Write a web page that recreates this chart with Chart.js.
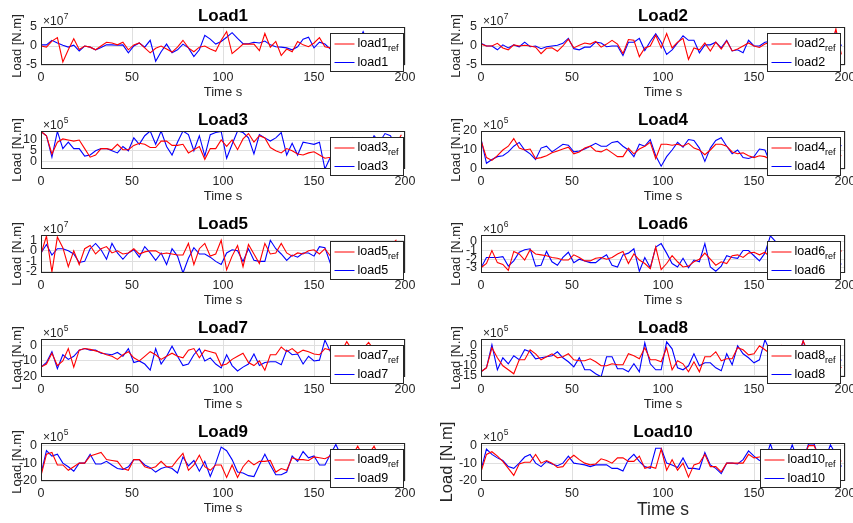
<!DOCTYPE html>
<html>
<head>
<meta charset="utf-8">
<script src="https://cdn.jsdelivr.net/npm/chart.js@4/dist/chart.umd.min.js"></script>
<style>
  html, body { margin: 0; padding: 0; background: #fff; width: 853px; height: 523px; overflow: hidden; }
  canvas { position: absolute; }
</style>
</head>
<body>
<script>
// tempo (s) comum a todas as curvas
const timeS = [0,3,6,9,12,15,18,21,24,27,30,33,36,39,42,45,48,51,54,57,60,63,66,69,72,75,78,81,84,87,
  90,93,96,99,102,105,108,111,114,117,120,123,126,129,132,135,138,141,144,147,150,153,156,159,162,165,168,171,174,177,
  180,183,186,189,192,195,198];

// valores em unidades do expoente de cada painel (x10^n)
const load1Ref = [0,-0.3,1.3,2.2,-4.2,-1.0,1.9,-0.9,0,-0.3, -1.0,0,1.0,0.8,0.3,1.0,-1.0,0.3,0.8,-0.5,
  -1.8,-0.6,0,-0.8,-1.6,-0.3,1.5,-0.5,-1.5,-0.3, 0,-0.8,-1.4,1.5,3.8,-2.0,-0.8,0.5,0.5,0.5,
  -1.2,3.3,-0.3,1.2,-2.5,-0.8,-1.5,1.2,0.3,-0.2, 0.8,2.2,-0.2,-0.5,0.5,-1.0,0.8,0,-0.5,1.0,
  -0.8,0.3,1.2,-0.5,0.5,-0.3,0.3];
const load1 = [0.3,0.3,1.5,0.8,0.2,-0.3,0.2,-1.3,0,-0.3, -1.0,-0.4,0.3,0.3,0.2,0.3,-1.8,0,0.8,-0.3,
  1.5,-4.0,-1.5,0.5,-1.8,-1.0,0.5,-0.5,-2.8,-1.0, 2.8,1.8,0.5,1.2,2.3,3.5,2.0,0.6,0.6,1.0,
  0.8,1.3,0.3,-0.2,-0.3,-0.5,-1.0,-0.2,1.8,2.3, -0.5,1.0,0.5,-0.8,0,0.5,-0.5,1.0,0.5,3.8,
  0.5,-0.5,1.0,0,-0.3,0.5,-0.3];

const load2Ref = [0.5,0,0,0.7,-0.5,-1.0,0.3,0,0.2,0, -0.3,-2.0,-0.6,-0.5,-1.4,0,1.8,-0.5,0.2,0.8,
  0.5,1.2,-0.3,0.5,1.5,0.5,-2.0,1.7,1.5,-2.8, -0.5,0,2.8,-0.5,3.3,-0.5,1.0,2.0,-3.5,-0.5,
  -1.0,0.8,-1.3,1.0,-0.8,1.3,-1.3,-0.8,0,0.8, 0,-0.4,0.5,1.0,-0.5,0.8,-1.0,0.5,1.2,-0.5,
  0.8,-1.0,0.5,1.5,-0.5,4.5,-2.2];
const load2 = [0.7,0,0,-1.0,0.3,-0.5,0.3,-0.2,1.0,-0.2, 0,-0.7,-0.2,0,0.2,0.7,2.0,-0.7,-1.0,-0.3,
  -0.3,1.0,0.8,-0.2,0,0,-2.5,1.0,1.0,2.0, -1.2,1.2,3.2,1.0,-2.2,-1.0,0.8,2.7,1.5,1.5,
  -1.8,0.3,0.3,1.0,-0.5,1.5,-1.3,-1.0,-1.8,1.5, 0,0,1.0,1.2,0.5,-0.8,0.5,1.0,-0.5,0.8,
  -0.3,1.0,0.5,-0.8,1.2,3.5,0];

const load3Ref = [14,12,3.5,9,10.5,10,9.5,10,6,2, 3,6,6,5.5,8,5.5,5.5,7.5,8.5,8,
  6.5,6.5,9.5,9.5,7.5,7.5,8,4,5.5,7, 1,6,6,10,7,10,5.5,10.5,13,9,
  12,11,6.5,5,4,6,5,3.5,3,4, 4.5,3,1.5,2,3,4,5,6,5,7,
  8,7,9,10,9,8,12.5];
const load3 = [14,12,2,14,6,9,6,6,2.5,3, 5,6,6,5,4,7,5,11,8,12,
  14.2,8,14.2,7,3,9,14.2,12.5,5,12, 2.5,12.5,13.5,14,1.5,8,14.2,13.5,11,3.5,
  12.5,11,9.5,11,13.5,3,8.5,3,9,8.5, 8,9,-3.5,2,6,9,5,11,8,10,
  7,12,9,13,12,7,7.5];

const load4Ref = [15,6,4.5,7,10,12,16,11,10,10.5, 5.5,6,7,8.5,9.5,10.5,11.5,8,9,11,
  12,9.5,9,10.5,8.5,6.5,6.5,11,8,10.5, 12,14,5.5,13,13,12.5,13,12,13.5,11,
  10,7.5,10,13,13,12,9,8,8.5,7, 6,7,6.5,5,7,9,8,10,9,11,
  8,10,9,7,9,8,7];
const load4 = [16,3,5,6.5,7,9,12,14,10,8, 5,11,12,9,11,13,12.5,9,9.5,10.5,
  12,13.5,12,12,14,14.5,12,10,6.5,13, 12,15.5,7,1.5,6.5,10,14,11.5,15.5,15,
  11,4,11,15,16.5,12,8,10,6,5.5, 6.5,10.5,10,3,8,11,7,12,9,13,
  8,11,7,12,9,10,12.5];

const load5Ref = [-0.3,1.4,-2.0,1.3,0.3,-1.5,0,-1.3,0.2,0.5, -0.3,0.2,0.4,-0.2,0,-0.3,-0.2,0.2,-0.3,-0.1,
  0,0,-0.3,-0.2,-0.3,-0.4,-0.4,0.7,-1.3,0.2, 0.7,-0.5,-0.3,1.0,-1.8,-0.5,0.5,-1.5,0.6,-0.3,
  -1.2,0.7,-0.3,-0.2,0.7,-0.2,-0.5,-0.2,-0.3,0, 0.1,-0.3,0.2,-0.5,0.4,-0.8,0.3,-0.4,0.6,-0.2,
  0.3,-0.7,0.2,-0.3,0.5,1.0,-1.8];
const load5 = [-0.2,0.6,-0.4,0.2,0.2,0,-0.3,-1.1,-1.0,0.2, 0.7,0.1,-0.8,0.7,-0.2,-0.8,-0.2,0.1,-0.6,0.4,
  -0.2,-0.9,-0.2,-1.3,0.2,-0.5,-2.1,-0.7,0.3,-0.3, -0.3,-0.6,-1.0,-1.3,-0.2,0.1,0,-1.0,0.2,-0.9,
  -1.0,-1.0,1.0,0.2,-0.3,-0.9,-0.4,-0.6,-0.2,-0.2, -0.5,0.4,0.3,-1.2,-0.3,0.5,-0.6,0.2,-0.9,0.4,
  -0.2,0.3,-0.7,0.1,-0.4,-0.5,0.6];

const load6Ref = [-3.0,-2.5,-1.0,-2.4,-2.6,-3.3,-1.1,-1.4,-2.1,-0.9, -1.4,-1.5,-1.6,-1.8,-1.9,-2.1,-2.1,-1.5,-1.8,-2.2,
  -2.2,-1.9,-1.8,-2.0,-1.8,-1.4,-1.1,-2.5,-1.4,-2.1, -2.5,-3.1,-0.6,-3.2,-2.5,-1.6,-2.3,-2.9,-2.8,-2.3,
  -2.0,-1.3,-2.0,-2.7,-2.3,-2.5,-1.6,-1.5,-1.8,-1.3, -1.2,-1.5,-1.2,-1.8,-1.5,-2.0,-1.6,-2.2,-1.4,-1.8,
  -1.2,-0.3,-1.9,-1.5,-2.2,-2.0,-1.0];
const load6 = [-3.0,-1.8,-1.8,-1.8,-1.7,-2.8,-2.2,-1.2,-0.9,-0.8, -2.8,-2.7,-1.1,-2.3,-2.7,-1.8,-1.2,-2.4,-2.0,-2.2,
  -2.4,-2.4,-1.9,-1.5,-2.7,-2.9,-1.5,-1.3,-0.8,-3.4, -1.8,-3.0,-0.6,-0.2,-1.3,-2.5,-2.9,-1.9,-3.0,-2.1,
  -2.3,-0.2,-2.9,-3.4,-2.8,-1.6,-1.8,-1.9,-1.0,-1.0, -1.6,-2.2,-1.3,0.7,0,-1.5,-2.2,-1.0,-2.5,-1.4,
  -2.0,-1.2,-2.6,-1.8,-1.5,-2.0,-2.6];

const load7Ref = [-14,-12,-5,-13,-10,-2,-14,-3,-2,-2.5, -3.5,-4.5,-6,-7,-9,-6,-4,-8,-10,-7,
  -4,-6,-9,-7,-5,-7,-8,-3,-2,-8, -3,-4,-5,-13,-12,-9,-7,-5,-11,-13,
  -10,-16,-6,-6,-1,-4,-2,-5,-3,-4, -5.5,-6,-2,-3,-5,-4,2.5,-3,-4,-2,
  2,-3,-6,-4,-7,-5,-10];
const load7 = [-14,-11,-4,-15,-6,-9,-7,-3,-2,-3, -3,-5,-5.5,-6,-4.5,-7,-2,-11,-10,-12,
  -16,-2,-12,-7,-0.5,-7,-13,-12,-6,-2, -10,-8,-12,-14.5,-6,-13,-16.5,-14,-12,-5.5,
  -13,-11,-10.5,-10.5,-12.5,-3,-6,-5.5,-12,-7, -10,-9.5,3.5,-4,-6,-9,-5,-7,-10,-6,
  -4,-8,-5,-9,-6,-11,-8];

const load8Ref = [-13,-11,-1,-6,-10,-12,-14,-7,-7,-2, -4,-7,-5.5,-4,-6,-5.5,-4,-7,-7.5,-7.5,
  -6.5,-8,-10,-10,-9,-9.5,-9.5,-4,-5,-6.5, -1,-7,-7,-8,-1,-12,-7.5,-9,-13,-8,
  -13,-5.5,-5.5,-3,-7.5,-6.5,-6.5,-1,-2,-4.5, -4,0,-2,-4,-6,0,-5,-3,-6,2.5,
  -4,-6,-3,-7,-5,-8,-11];
const load8 = [-13,-11,0.5,-12,-6,-9,-5,-7,-2,-3, -6.5,-6,-5.5,-5,-3,-6,-8,-10.5,-6,-12,
  -12,-14,-15.5,-5.5,-5.5,-11.5,-11.5,-13,-9,-13, 1.5,-9,-12,-12,2,-1.5,-11,-12,-10,-4,
  -10,-8.5,-8.5,-11,-12.5,-4,-9.5,0,-4,-6, -8.5,-7,3,-3,-8,-5,-9,-4,-7,2.5,
  -6,-9,-5,-8,-6,-9,-7];

const load9Ref = [-17,-5,-4,-11,-11,-14,-12,-10,-10,-6, -5,-4,-8,-8.5,-9,-13,-14,-8,-8,-12,
  -13,-12,-9,-12,-12,-8,-4.5,-14,-11,-5.5, -12,-14,-11,-11,-18,-11,-18,-12,-8.5,-11,
  -9,-9,-8.5,-15,-13,-14,-7,-8,-8,-8.5, -6.5,-7,-7.5,-6,-5,-8,-4,-6,-0.5,-6,
  -5,-0.5,-7,-5,-8,-6,-3.5];
const load9 = [-16,-3,-6,-5,-10,-12,-14.5,-10,-10,-5, -10.5,-10.5,-9,-11,-13,-13.5,-12,-8,-8,-11,
  -12.5,-15,-13,-12,-13,-15.5,-6.5,-11.5,-8.5,-14.5, -9,-17.5,-10,-1,-3,-8,-15,-15.5,-17,-17.5,
  -11,-5,-11,-16.5,-16.5,-15,-6,-9,-3.5,-7, -6,-11,-11,-5,0.5,-6,-9,-7,-10,-8,
  -6,-9,-7,-11,-8,-10,-12];

const load10Ref = [-15,-5,-3.5,-6,-9,-13,-17,-10.5,-9.5,-9.5, -5,-10,-8.5,-10,-12.5,-12,-8,-5.5,-8,-10,
  -11,-10.5,-7.5,-8.5,-10,-7,-7,-9,-9,-6, -13,-12,-13,-2,-14,-8,-14,-10,-18,-11,
  -10,-5,-12,-12,-15,-10,-10,-10,-10,-5, -7,-6.5,-6,-8,-6,-9,-5,-7,-6,-8,
  0,0,-7,-5,-8,-6,-9];
const load10 = [-14,-2,-5,-7,-8.5,-12,-13,-10,-6.5,-5, -10,-12,-9,-10.5,-11.5,-10,-6,-10,-10.5,-11,
  -12,-11,-11,-11,-13,-13,-14.5,-8,-5,-9, -12,-13,-1.5,-1.5,-10,-11,-12.5,-7,-13,-13,
  -13.5,-4,-11,-13,-16,-10,-10,-10.5,-8,-3, -6,-8.5,-9,1,-8,-8,-8,0.5,-8,-8,
  1,1,-8,-8,0.5,-5,-12];

// limites e ticks do eixo y de cada painel
const yTicks1 = [-5, 0, 5];
const yTicks3 = [0, 5, 10];
const yTicks4 = [0, 10, 20];
const yTicks5 = [-2, -1, 0, 1];
const yTicks6 = [-3, -2, -1, 0];
const yTicks7 = [-20, -10, 0];
const yTicks8 = [-15, -10, -5, 0];
const xTicks = [0, 50, 100, 150, 200];

const panels = [
  { title: 'Load1',  name: 'load1',  ref: load1Ref,  sim: load1,  exp: 7, yMin: -5,   yMax: 5,   yTicks: yTicks1 },
  { title: 'Load2',  name: 'load2',  ref: load2Ref,  sim: load2,  exp: 7, yMin: -5,   yMax: 5,   yTicks: yTicks1 },
  { title: 'Load3',  name: 'load3',  ref: load3Ref,  sim: load3,  exp: 5, yMin: -3.5, yMax: 14.2, yTicks: yTicks3 },
  { title: 'Load4',  name: 'load4',  ref: load4Ref,  sim: load4,  exp: 5, yMin: 0,    yMax: 20,  yTicks: yTicks4 },
  { title: 'Load5',  name: 'load5',  ref: load5Ref,  sim: load5,  exp: 7, yMin: -2.1, yMax: 1.5, yTicks: yTicks5 },
  { title: 'Load6',  name: 'load6',  ref: load6Ref,  sim: load6,  exp: 6, yMin: -3.6, yMax: 0.8, yTicks: yTicks6 },
  { title: 'Load7',  name: 'load7',  ref: load7Ref,  sim: load7,  exp: 5, yMin: -20.4, yMax: 4.2, yTicks: yTicks7 },
  { title: 'Load8',  name: 'load8',  ref: load8Ref,  sim: load8,  exp: 5, yMin: -15.6, yMax: 3.4, yTicks: yTicks8 },
  { title: 'Load9',  name: 'load9',  ref: load9Ref,  sim: load9,  exp: 5, yMin: -20,  yMax: 1.3, yTicks: yTicks7 },
  { title: 'Load10', name: 'load10', ref: load10Ref, sim: load10, exp: 5, yMin: -20.2, yMax: 1.5, yTicks: yTicks7, big: true }
];

// ---- layout ----
const FONT = '"Liberation Sans", Arial, Helvetica, sans-serif';
const INK = '#262626';
const GRID = '#dfdfdf';
const TOP_PAD = 27;   // espaço acima da área do gráfico (título)
const AXES_H = 38;
const XAXIS_H = 40;
const CANVAS_H = TOP_PAD + AXES_H + XAXIS_H;
const rowTops = [27, 131, 235, 339, 443];
const cols = [
  { left: 0,   width: 425, yAxisW: 41, padRight: 20, yTitlePad: 10, legendInset: 2 },
  { left: 425, width: 428, yAxisW: 56, padRight: 8,  yTitlePad: 24, legendInset: 5 }
];

Chart.defaults.font.family = FONT;

// caixa, legenda, título e expoente desenhados à mão (estilo MATLAB)
const panelDecor = {
  id: 'panelDecor',
  afterDatasetsDraw(chart, args, opts) {
    const { ctx, chartArea: a } = chart;
    ctx.save();
    ctx.strokeStyle = INK;
    ctx.lineWidth = 1;
    ctx.strokeRect(Math.round(a.left) + 0.5, Math.round(a.top) + 0.5,
                   Math.round(a.width) - 1, Math.round(a.height) - 1);

    // legenda
    const rows = chart.data.datasets.map(ds => {
      const [main, sub] = ds.label.split('_');
      return { main, sub, color: ds.borderColor };
    });
    const mainFont = `12.5px ${FONT}`;
    const subFont = `9px ${FONT}`;
    let textW = 0;
    rows.forEach(r => {
      ctx.font = mainFont;
      r.mw = ctx.measureText(r.main).width;
      ctx.font = subFont;
      r.sw = r.sub ? ctx.measureText(r.sub).width : 0;
      textW = Math.max(textW, r.mw + r.sw);
    });
    const boxW = Math.round(4 + 20 + 3 + textW + 5);
    const boxH = 38;
    const x0 = Math.round(a.right - opts.inset - boxW) + 0.5;
    const y0 = Math.round(a.top + 5.5) + 0.5;
    ctx.fillStyle = '#fff';
    ctx.fillRect(x0, y0, boxW, boxH);
    ctx.strokeStyle = INK;
    ctx.strokeRect(x0, y0, boxW, boxH);
    rows.forEach((r, k) => {
      const cy = y0 + 10.5 + k * 18.5;
      ctx.strokeStyle = r.color;
      ctx.lineWidth = 1;
      ctx.beginPath();
      ctx.moveTo(x0 + 4, cy);
      ctx.lineTo(x0 + 24, cy);
      ctx.stroke();
      ctx.fillStyle = '#000';
      ctx.textBaseline = 'middle';
      ctx.textAlign = 'left';
      ctx.font = mainFont;
      ctx.fillText(r.main, x0 + 27, cy);
      if (r.sub) {
        ctx.font = subFont;
        ctx.fillText(r.sub, x0 + 27 + r.mw, cy + 5);
      }
    });
    ctx.restore();
  },
  afterDraw(chart, args, opts) {
    const { ctx, chartArea: a } = chart;
    ctx.save();
    ctx.fillStyle = '#000';
    ctx.textAlign = 'center';
    ctx.textBaseline = 'alphabetic';
    ctx.font = `bold 17px ${FONT}`;
    ctx.fillText(opts.title, (a.left + a.right) / 2, a.top - 6.5);

    // x10^n
    ctx.fillStyle = INK;
    ctx.textAlign = 'left';
    ctx.font = `12px ${FONT}`;
    const base = '\u00d710';
    ctx.fillText(base, a.left + 2, a.top - 2.5);
    const bw = ctx.measureText(base).width;
    ctx.font = `8.5px ${FONT}`;
    ctx.fillText(String(opts.exp), a.left + 2 + bw + 0.5, a.top - 8);
    ctx.restore();
  }
};

function makePanel(p, i) {
  const col = cols[i % 2];
  const row = Math.floor(i / 2);

  const canvas = document.createElement('canvas');
  canvas.width = col.width;
  canvas.height = CANVAS_H;
  canvas.style.left = col.left + 'px';
  canvas.style.top = (rowTops[row] - TOP_PAD) + 'px';
  canvas.style.width = col.width + 'px';
  canvas.style.height = CANVAS_H + 'px';
  document.body.appendChild(canvas);

  const yTitle = p.big ? { size: 16.5, pad: 12.6 } : { size: 13, pad: col.yTitlePad };
  const xTitle = p.big ? { size: 17.5, pad: 0.8 } : { size: 13, pad: 4.6 };

  const toPoints = arr => timeS.map((t, k) => ({ x: t, y: arr[k] }));

  new Chart(canvas, {
    type: 'line',
    data: {
      datasets: [
        { label: p.name + '_ref', data: toPoints(p.ref), borderColor: '#ff0000', borderWidth: 1.1,
          pointRadius: 0, tension: 0, fill: false },
        { label: p.name, data: toPoints(p.sim), borderColor: '#0000ff', borderWidth: 1.1,
          pointRadius: 0, tension: 0, fill: false }
      ]
    },
    options: {
      responsive: false,
      animation: false,
      devicePixelRatio: 1,
      events: [],
      layout: { autoPadding: false, padding: { left: 0, right: col.padRight, top: TOP_PAD, bottom: 0 } },
      plugins: {
        legend: { display: false },
        tooltip: { enabled: false },
        panelDecor: { title: p.title, exp: p.exp, inset: col.legendInset }
      },
      scales: {
        x: {
          type: 'linear', min: 0, max: 200,
          afterBuildTicks: s => { s.ticks = xTicks.map(v => ({ value: v })); },
          afterFit: s => { s.height = XAXIS_H; s.paddingLeft = 0; s.paddingRight = 0; },
          ticks: { font: { size: 12.5 }, color: INK, padding: 5.5, maxRotation: 0, autoSkip: false },
          grid: { color: GRID, drawTicks: false },
          border: { display: false },
          title: { display: true, text: 'Time s', color: INK, font: { size: xTitle.size },
                   padding: { top: 0, bottom: xTitle.pad } }
        },
        y: {
          type: 'linear', min: p.yMin, max: p.yMax,
          afterBuildTicks: s => { s.ticks = p.yTicks.map(v => ({ value: v })); },
          afterFit: s => { s.width = col.yAxisW; s.paddingTop = 0; s.paddingBottom = 0; },
          ticks: { font: { size: 12.5 }, color: INK, padding: 4, autoSkip: false, callback: v => String(v) },
          grid: { color: GRID, drawTicks: false },
          border: { display: false },
          title: { display: true, text: 'Load [N.m]', color: INK, font: { size: yTitle.size },
                   padding: { top: yTitle.pad, bottom: 0 } }
        }
      }
    },
    plugins: [panelDecor]
  });
}

panels.forEach(makePanel);
</script>
</body>
</html>
